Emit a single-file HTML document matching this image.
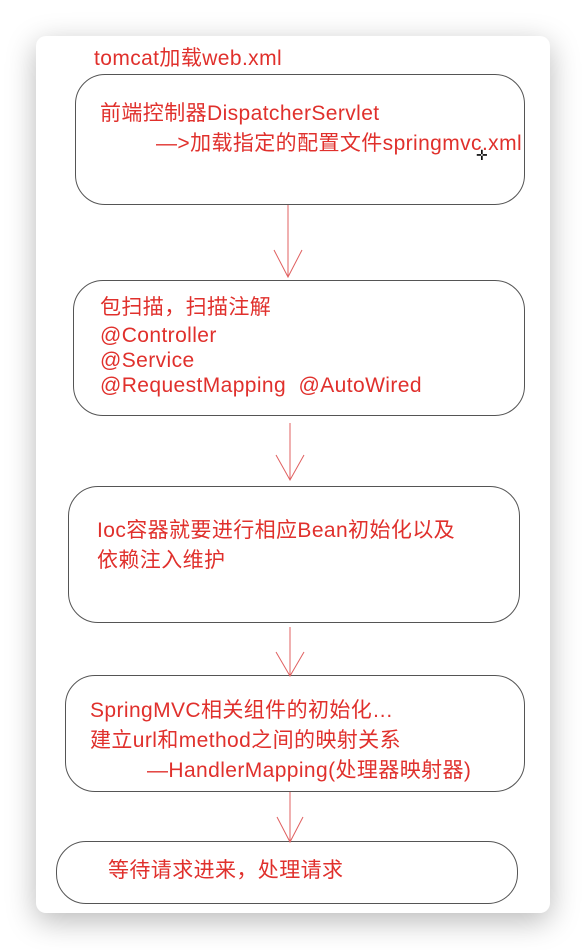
<!DOCTYPE html>
<html><head><meta charset="utf-8"><style>
html,body{margin:0;padding:0;width:586px;height:950px;background:#fff;overflow:hidden}
.card{position:absolute;left:36px;top:36px;width:514px;height:877px;background:#fff;border-radius:10px;box-shadow:0 8px 30px rgba(0,0,0,0.28)}
.box{position:absolute;border:1.3px solid #555;border-radius:30px;box-sizing:border-box}
.t{position:absolute;color:#e0302c;font-family:"Liberation Sans","Noto Sans CJK SC",sans-serif;font-size:21px;letter-spacing:0.4px;line-height:25px;white-space:nowrap}
svg{position:absolute;left:0;top:0}
</style></head><body>
<div class="card"></div>
<div class="box" style="left:75px;top:74px;width:450px;height:131px"></div>
<div class="box" style="left:73px;top:280px;width:452px;height:136px"></div>
<div class="box" style="left:68px;top:486px;width:452px;height:137px"></div>
<div class="box" style="left:65px;top:675px;width:460px;height:117px"></div>
<div class="box" style="left:56px;top:841px;width:462px;height:63px"></div>
<svg width="586" height="950">
<g stroke="#e06060" stroke-width="1" fill="none">
<line x1="288" y1="205" x2="288" y2="277"/><polyline points="274,250 288,277 302,250"/>
<line x1="290" y1="423" x2="290" y2="480"/><polyline points="276,455 290,480 304,455"/>
<line x1="290" y1="627" x2="290" y2="676"/><polyline points="276,652 290,676 304,652"/>
<line x1="290" y1="792" x2="290" y2="842"/><polyline points="277,817 290,842 303,817"/>
</g>
<text x="476" y="160" font-size="14" fill="#000">✛</text>
</svg>
<div class="t" style="left:94px;top:46px">tomcat加载web.xml</div>
<div class="t" style="left:100px;top:101px">前端控制器DispatcherServlet</div>
<div class="t" style="left:156px;top:131px">—>加载指定的配置文件springmvc.xml</div>
<div class="t" style="left:100px;top:295px">包扫描，扫描注解</div>
<div class="t" style="left:100px;top:323px">@Controller</div>
<div class="t" style="left:100px;top:348px">@Service</div>
<div class="t" style="left:100px;top:373px">@RequestMapping &nbsp;@AutoWired</div>
<div class="t" style="left:97px;top:518px">Ioc容器就要进行相应Bean初始化以及</div>
<div class="t" style="left:97px;top:548px">依赖注入维护</div>
<div class="t" style="left:90px;top:698px">SpringMVC相关组件的初始化…</div>
<div class="t" style="left:90px;top:728px">建立url和method之间的映射关系</div>
<div class="t" style="left:147px;top:758px">—HandlerMapping(处理器映射器)</div>
<div class="t" style="left:108px;top:858px">等待请求进来，处理请求</div>
</body></html>
